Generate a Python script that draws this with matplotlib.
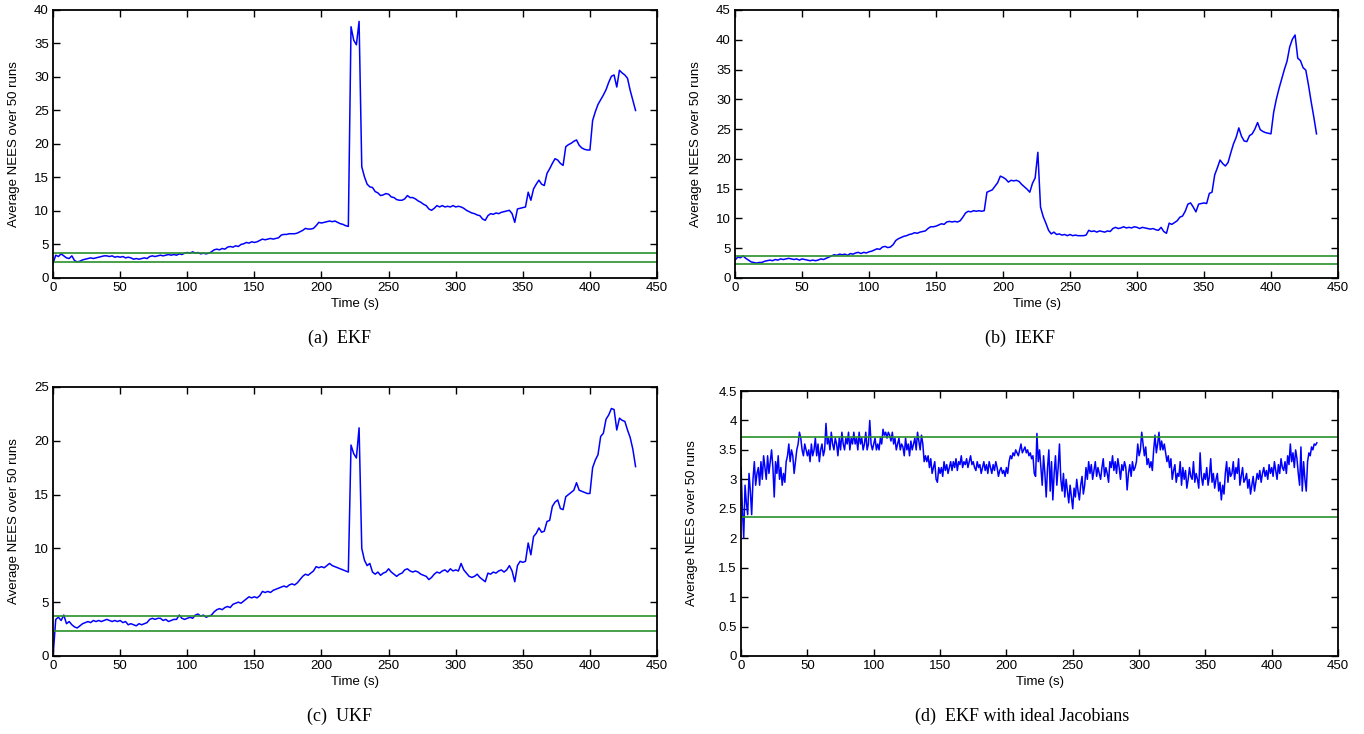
import numpy as np
import matplotlib
matplotlib.use("Agg")
import matplotlib.pyplot as plt
from matplotlib.ticker import FormatStrFormatter

# time grid of the NEES curves (s), one sample every 2 s
t = np.arange(0, 435, 2)
# panel (d) is read at 1 s resolution
t_fine = np.arange(0, 435, 1)

# chi-square 95% bounds for the averaged NEES
lower_bound = 2.36
upper_bound = 3.72

# (a) EKF
nees_ekf = [
    2.2, 3.4, 3.2, 3.6, 3.3, 3.0, 2.9, 3.3, 2.6, 2.4,
    2.5, 2.7, 2.8, 2.9, 3.0, 2.9, 3.0, 3.1, 3.2, 3.3,
    3.3, 3.2, 3.3, 3.1, 3.2, 3.1, 3.2, 3.0, 3.1, 3.0,
    2.8, 2.9, 2.8, 2.9, 3.0, 2.9, 3.2, 3.3, 3.2, 3.3,
    3.4, 3.3, 3.4, 3.5, 3.4, 3.5, 3.4, 3.6, 3.5, 3.7,
    3.8, 3.7, 3.9, 3.7, 3.8, 3.6, 3.7, 3.6, 3.7, 3.9,
    4.2, 4.3, 4.2, 4.4, 4.3, 4.6, 4.7, 4.6, 4.8, 4.7,
    5.0, 5.1, 5.3, 5.2, 5.4, 5.3, 5.4, 5.6, 5.8, 5.7,
    5.8, 5.9, 5.8, 5.9, 6.0, 6.4, 6.5, 6.5, 6.6, 6.6,
    6.6, 6.7, 6.9, 7.1, 7.4, 7.3, 7.3, 7.4, 7.8, 8.3,
    8.2, 8.3, 8.4, 8.5, 8.4, 8.5, 8.3, 8.1, 8.0, 7.8,
    7.7, 37.5, 35.5, 34.8, 38.3, 16.6, 15.1, 14.0, 13.6, 13.5,
    12.9, 12.7, 12.3, 12.4, 12.6, 12.5, 12.1, 12.0, 11.7, 11.6,
    11.6, 11.8, 12.3, 12.0, 12.0, 11.8, 11.5, 11.3, 11.0, 10.8,
    10.3, 10.1, 10.4, 10.8, 10.6, 10.8, 10.6, 10.7, 10.6, 10.8,
    10.6, 10.7, 10.6, 10.4, 10.1, 9.9, 9.7, 9.6, 9.4, 9.3,
    8.8, 8.6, 9.3, 9.6, 9.5, 9.7, 9.6, 9.8, 9.9, 10.0,
    10.1, 9.6, 8.3, 10.3, 10.4, 10.5, 10.6, 12.8, 11.6, 13.3,
    14.0, 14.6, 14.0, 13.8, 15.6, 16.3, 17.1, 17.8, 17.6, 17.1,
    16.8, 19.6, 19.9, 20.1, 20.4, 20.6, 19.8, 19.4, 19.2, 19.1,
    19.1, 23.5, 24.8, 25.9, 26.6, 27.3, 28.1, 29.2, 30.1, 30.3,
    28.5, 31.0, 30.6, 30.3, 29.8, 28.0, 26.5, 25.0,
]

# (b) IEKF
nees_iekf = [
    3.0, 3.5, 3.4, 3.7, 3.3, 3.0, 2.7, 2.6, 2.5, 2.6,
    2.6, 2.8, 2.9, 3.0, 2.9, 3.1, 3.0, 3.2, 3.1, 3.2,
    3.3, 3.2, 3.1, 3.2, 3.0, 3.2, 3.1, 3.0, 2.9, 3.0,
    2.9, 3.0, 3.2, 3.1, 3.3, 3.5, 3.7, 3.9, 3.8, 4.0,
    3.9, 4.0, 3.8, 4.1, 4.0, 4.2, 4.3, 4.1, 4.3, 4.2,
    4.4, 4.5, 4.7, 4.9, 4.8, 5.2, 5.3, 5.1, 5.2, 5.6,
    6.3, 6.6, 6.8, 7.0, 7.1, 7.3, 7.4, 7.6, 7.5, 7.7,
    7.8, 7.9, 8.3, 8.6, 8.6, 8.7, 8.9, 9.1, 9.0, 9.4,
    9.5, 9.4, 9.5, 9.4, 9.6, 10.2, 10.9, 11.2, 11.1, 11.3,
    11.2, 11.3, 11.2, 11.3, 14.4, 14.6, 14.8, 15.4, 16.0, 17.1,
    16.9, 16.6, 16.1, 16.4, 16.3, 16.4, 16.2, 15.7, 15.3, 14.9,
    14.4, 15.9, 16.8, 21.1, 11.9, 10.3, 9.2, 8.0, 7.4, 7.7,
    7.3, 7.4, 7.2, 7.3, 7.1, 7.3, 7.1, 7.2, 7.1, 7.1,
    7.1, 7.2, 8.0, 7.8, 7.9, 7.7, 7.9, 7.8, 7.7, 7.9,
    7.8, 8.3, 8.5, 8.3, 8.4, 8.6, 8.4, 8.5, 8.4, 8.6,
    8.5, 8.3, 8.5, 8.4, 8.3, 8.2, 8.3, 8.1, 8.0, 8.5,
    7.8, 7.5, 9.2, 9.0, 9.3, 9.6, 10.2, 10.4, 11.2, 12.4,
    12.6, 11.9, 11.1, 12.4, 12.5, 12.6, 12.5, 14.2, 14.4, 17.3,
    18.5, 19.8, 19.2, 18.8, 19.4, 21.0, 22.5, 23.6, 25.2, 23.8,
    23.0, 22.9, 23.9, 24.2, 25.0, 26.1, 24.9, 24.6, 24.4, 24.3,
    24.2, 27.8, 30.0, 31.8, 33.4, 35.0, 36.4, 38.8, 40.1, 40.8,
    36.9, 36.5, 35.3, 34.9, 32.4, 29.6, 27.0, 24.2,
]

# (c) UKF
nees_ukf = [
    0.0, 3.4, 3.6, 3.3, 3.8, 3.0, 3.2, 2.9, 2.7, 2.6,
    2.8, 3.0, 3.1, 3.2, 3.1, 3.3, 3.2, 3.3, 3.2, 3.3,
    3.4, 3.3, 3.2, 3.3, 3.2, 3.3, 3.1, 3.2, 2.9, 3.0,
    2.9, 2.8, 3.0, 2.9, 3.0, 3.1, 3.4, 3.5, 3.4, 3.5,
    3.5, 3.3, 3.4, 3.2, 3.3, 3.4, 3.4, 3.8, 3.5, 3.4,
    3.5, 3.6, 3.5, 3.8, 3.9, 3.7, 3.8, 3.6, 3.7, 3.8,
    4.1, 4.3, 4.4, 4.3, 4.5, 4.6, 4.5, 4.8, 4.9, 5.0,
    4.9, 5.1, 5.3, 5.5, 5.4, 5.5, 5.4, 5.6, 6.0, 5.9,
    6.0, 5.9, 6.1, 6.2, 6.3, 6.4, 6.5, 6.4, 6.6, 6.7,
    6.6, 6.8, 7.1, 7.4, 7.6, 7.5, 7.7, 7.9, 8.3, 8.2,
    8.3, 8.2, 8.4, 8.6, 8.4, 8.3, 8.2, 8.1, 8.0, 7.9,
    7.8, 19.6, 18.8, 18.4, 21.2, 10.0, 8.9, 8.4, 8.6, 7.8,
    7.6, 7.8, 7.5, 7.7, 7.8, 8.1, 7.8, 7.6, 7.4, 7.6,
    7.7, 8.0, 8.1, 7.9, 7.8, 7.9, 7.8, 7.6, 7.5, 7.4,
    7.1, 7.3, 7.6, 7.8, 7.7, 7.9, 8.0, 7.8, 8.1, 7.9,
    8.0, 7.9, 8.6, 8.0, 7.7, 7.4, 7.3, 7.4, 7.6, 7.3,
    7.1, 6.9, 7.7, 7.6, 7.8, 7.7, 7.9, 8.0, 7.8, 8.0,
    8.4, 7.9, 6.9, 8.4, 8.8, 8.7, 8.8, 10.5, 9.4, 11.1,
    11.4, 11.9, 11.5, 11.6, 12.5, 12.6, 13.9, 14.3, 14.5, 13.7,
    13.6, 14.8, 15.0, 15.2, 15.4, 16.1, 15.4, 15.3, 15.2, 15.1,
    15.1, 17.5, 18.2, 18.7, 20.4, 20.7, 22.0, 22.4, 23.0, 22.9,
    21.0, 22.1, 21.9, 21.8, 21.0, 20.3, 19.2, 17.6,
]

# (d) EKF with ideal Jacobians, one value per second
nees_ideal = [
    3.2, 2.5, 2.0, 2.9, 2.6, 2.4, 3.1, 2.8, 2.4, 3.0,
    3.3, 2.9, 3.1, 3.2, 2.9, 3.3, 3.0, 3.4, 3.2, 3.0,
    3.4, 3.1, 3.3, 3.5, 3.2, 2.7, 3.3, 3.1, 3.4, 3.0,
    3.2, 2.9, 3.1, 2.95, 3.3, 3.4, 3.6, 3.3, 3.5, 3.4,
    3.1, 3.3, 3.5, 3.6, 3.8, 3.7, 3.5, 3.4, 3.6, 3.5,
    3.4, 3.5, 3.3, 3.6, 3.4, 3.5, 3.7, 3.4, 3.6, 3.3,
    3.5, 3.6, 3.4, 3.5, 3.95, 3.6, 3.7, 3.5, 3.8, 3.6,
    3.5, 3.7, 3.6, 3.4, 3.7, 3.5, 3.8, 3.6, 3.5, 3.7,
    3.6, 3.8, 3.5, 3.7, 3.6, 3.8, 3.6, 3.7, 3.5, 3.8,
    3.6, 3.7, 3.5, 3.6, 3.8, 3.5, 3.6, 4.0, 3.6, 3.5,
    3.6, 3.7, 3.5, 3.6, 3.5, 3.7, 3.6, 3.85, 3.75, 3.8,
    3.7, 3.8, 3.75, 3.65, 3.8, 3.6, 3.7, 3.5, 3.6, 3.7,
    3.5, 3.6, 3.55, 3.4, 3.7, 3.5, 3.6, 3.4, 3.65, 3.5,
    3.6, 3.7, 3.5, 3.8, 3.65, 3.5, 3.75, 3.6, 3.3, 3.4,
    3.3, 3.4, 3.2, 3.35, 3.1, 3.2, 3.3, 3.0, 2.95, 3.2,
    3.1, 3.2, 3.05, 3.3, 3.15, 3.25, 3.1, 3.2, 3.3, 3.15,
    3.3, 3.2, 3.35, 3.15, 3.3, 3.25, 3.4, 3.2, 3.3, 3.25,
    3.35, 3.2, 3.3, 3.4, 3.25, 3.3, 3.2, 3.15, 3.3, 3.2,
    3.25, 3.1, 3.2, 3.3, 3.15, 3.25, 3.1, 3.3, 3.2, 3.1,
    3.25, 3.15, 3.3, 3.2, 3.05, 3.15, 3.2, 3.1, 3.15, 3.05,
    3.2, 3.1, 3.3, 3.4, 3.35, 3.45, 3.4, 3.5, 3.45, 3.4,
    3.5, 3.6, 3.45, 3.5, 3.55, 3.45, 3.5, 3.4, 3.45, 3.35,
    3.4, 3.1, 3.05, 3.78, 3.3, 3.5, 3.2, 2.9, 3.4, 3.1,
    2.7, 3.2, 3.5, 2.8, 3.3, 2.65, 3.1, 3.4, 2.9, 3.2,
    3.6, 3.0, 2.8, 3.1, 2.7, 3.0, 2.8, 2.6, 2.9, 2.7,
    2.5, 2.85, 2.7, 3.0, 2.8, 2.65, 2.9, 3.05, 2.75, 2.9,
    3.2, 3.0, 3.3, 3.1, 3.25, 3.0, 3.15, 3.3, 3.05, 3.2,
    3.1, 3.0, 3.2, 3.35, 3.05, 3.2, 3.1, 2.95, 3.3, 3.2,
    3.4, 3.15, 3.3, 3.1, 3.35, 3.2, 3.0, 3.25, 3.15, 3.3,
    3.2, 2.82, 3.1, 3.25, 3.05, 3.3, 3.15, 3.2, 3.3, 3.6,
    3.4, 3.5, 3.8, 3.6, 3.4, 3.55, 3.25, 3.35, 3.2, 3.3,
    3.15, 3.5, 3.75, 3.45, 3.6, 3.8, 3.5, 3.65, 3.5, 3.6,
    3.45, 3.3, 3.4, 3.2, 3.35, 3.0, 3.15, 3.25, 2.95, 3.1,
    3.05, 3.3, 2.9, 3.2, 3.0, 3.15, 2.85, 3.0, 3.2, 3.05,
    3.0, 3.3, 2.95, 3.1, 3.0, 2.85, 3.45, 3.05, 2.9, 3.1,
    3.0, 3.2, 2.9, 3.05, 3.35, 2.95, 3.1, 2.85, 3.0, 3.1,
    2.8, 2.95, 2.65, 2.9, 2.75, 3.1, 3.3, 2.95, 3.2, 3.05,
    3.1, 3.3, 3.0, 3.2, 3.1, 3.35, 2.9, 3.05, 3.2, 2.95,
    3.0, 3.1, 2.85, 3.0, 2.75, 2.9, 3.05, 2.8, 2.95, 3.1,
    3.0, 3.15, 2.95, 3.1, 3.2, 3.05, 3.15, 3.0, 3.25, 3.1,
    3.2, 3.05, 3.3, 3.15, 3.0, 3.25, 3.1, 3.35, 3.2, 3.15,
    3.3, 3.1, 3.4, 3.25, 3.6, 3.3, 3.45, 3.2, 3.5, 3.35,
    3.1, 2.9, 3.55, 2.8, 3.3, 3.0, 2.8, 3.3, 3.45, 3.4,
    3.55, 3.5, 3.6, 3.58, 3.62,
]

captions = ["(a)  EKF", "(b)  IEKF", "(c)  UKF", "(d)  EKF with ideal Jacobians"]
series = [(t, nees_ekf), (t, nees_iekf), (t, nees_ukf), (t_fine, nees_ideal)]
ytop = [40, 45, 25, 4.5]
ystep = [5, 5, 5, 0.5]
ypad = [10, 10, 10, 15]

plt.rcParams['font.family'] = ['Liberation Sans', 'DejaVu Sans']

fig = plt.figure(figsize=(13.64, 7.34), dpi=100)

# axes boxes in figure fractions [left, bottom, width, height]
boxes = [
    [0.0389, 0.6213, 0.4428, 0.3651],
    [0.5389, 0.6213, 0.4420, 0.3651],
    [0.0389, 0.1063, 0.4428, 0.3665],
    [0.5433, 0.1063, 0.4377, 0.3610],
]
caption_xy = [(0.249, 0.539), (0.748, 0.539), (0.249, 0.024), (0.749, 0.024)]

for i in range(4):
    ax = fig.add_axes(boxes[i])
    ax.plot(series[i][0], series[i][1], color='#0000ff', lw=1.1)
    ax.axhline(upper_bound, color='#2a912a', lw=1.2)
    ax.axhline(lower_bound, color='#2a912a', lw=1.2)
    ax.set_xlim(0, 450)
    ax.set_ylim(0, ytop[i])
    ax.set_xticks(np.arange(0, 451, 50))
    ax.set_yticks(np.arange(0, ytop[i] + ystep[i] / 2, ystep[i]))
    ax.yaxis.set_major_formatter(FormatStrFormatter('%g'))
    ax.tick_params(direction='in', top=True, right=True, length=5, width=1,
                   labelsize=9.5, pad=3)
    for sp in ax.spines.values():
        sp.set_linewidth(1.3)
    ax.set_xlabel('Time (s)', fontsize=9.5, labelpad=3)
    ax.set_ylabel('Average NEES over 50 runs', fontsize=9.5, labelpad=ypad[i])
    fig.text(caption_xy[i][0], caption_xy[i][1], captions[i], ha='center',
             va='center', fontsize=13, family=['Liberation Serif', 'DejaVu Serif'])

fig.savefig('out.png', dpi=100)
